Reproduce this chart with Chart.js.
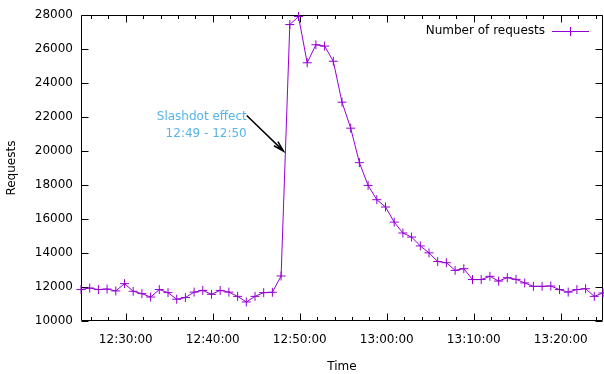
<!DOCTYPE html>
<html>
<head>
<meta charset="utf-8">
<script src="https://cdn.jsdelivr.net/npm/chart.js@4.4.0/dist/chart.umd.min.js"></script>
<style>
    html, body { margin: 0; padding: 0; background: #fff; }
</style>
</head>
<body>
<canvas id="requestsChart" width="604" height="374"></canvas>
<script>
// sample times (one per minute)
var times = [
    '12:24:51', '12:25:51', '12:26:51', '12:27:51', '12:28:51', '12:29:51', '12:30:51', '12:31:51',
    '12:32:51', '12:33:51', '12:34:51', '12:35:51', '12:36:51', '12:37:51', '12:38:51', '12:39:51',
    '12:40:51', '12:41:51', '12:42:51', '12:43:51', '12:44:51', '12:45:51', '12:46:51', '12:47:51',
    '12:48:51', '12:49:51', '12:50:51', '12:51:51', '12:52:51', '12:53:51', '12:54:51', '12:55:51',
    '12:56:51', '12:57:51', '12:58:51', '12:59:51', '13:00:51', '13:01:51', '13:02:51', '13:03:51',
    '13:04:51', '13:05:51', '13:06:51', '13:07:51', '13:08:51', '13:09:51', '13:10:51', '13:11:51',
    '13:12:51', '13:13:51', '13:14:51', '13:15:51', '13:16:51', '13:17:51', '13:18:51', '13:19:51',
    '13:20:51', '13:21:51', '13:22:51', '13:23:51', '13:24:51'
];

// Number of requests
var requests = [
    11850, 11940, 11850, 11880, 11770, 12200, 11750, 11610,
    11410, 11850, 11670, 11280, 11380, 11700, 11800, 11570,
    11800, 11700, 11450, 11120, 11450, 11670, 11690, 12650,
    27450, 27920, 25200, 26260, 26180, 25290, 22880, 21350,
    19320, 17980, 17140, 16710, 15820, 15180, 14940, 14420,
    14010, 13500, 13430, 12980, 13080, 12440, 12440, 12630,
    12350, 12550, 12450, 12240, 12040, 12040, 12060, 11850,
    11700, 11850, 11900, 11450, 11650
];

var xTickLabels = ['12:30:00', '12:40:00', '12:50:00', '13:00:00', '13:10:00', '13:20:00'];
var yTicks = [10000, 12000, 14000, 16000, 18000, 20000, 22000, 24000, 26000, 28000];

// annotation arrow (data coords)
var arrowFrom = ['12:43:54', 22100];
var arrowTo = ['12:48:08', 20000];
var noteLines = ['Slashdot effect', '12:49 - 12:50'];

var FONT = 'DejaVu Sans';
var LINE_COLOR = '#9400d3';

function toSec(t) {
    var p = t.split(':');
    return (+p[0]) * 3600 + (+p[1]) * 60 + (+p[2]);
}
function pad2(n) { return (n < 10 ? '0' : '') + n; }
function fmtTime(s) {
    return pad2(Math.floor(s / 3600)) + ':' + pad2(Math.floor(s / 60) % 60) + ':' + pad2(s % 60);
}

// cadre + graduations vers l'intérieur (style gnuplot)
var frameTicks = {
    id: 'frameTicks',
    beforeDatasetsDraw: function(chart) {
        var ctx = chart.ctx, a = chart.chartArea;
        var xs = chart.scales.x, ys = chart.scales.y;
        var L = Math.round(a.left) + 0.5, R = Math.round(a.right) - 0.5;
        var T = Math.round(a.top) + 0.5, B = Math.round(a.bottom) - 0.5;
        ctx.save();
        ctx.strokeStyle = '#000';
        ctx.lineWidth = 1;
        ctx.beginPath();
        ctx.rect(L, T, R - L, B - T);

        yTicks.forEach(function(v) {
            var y = Math.round(ys.getPixelForValue(v)) + 0.5;
            ctx.moveTo(L, y); ctx.lineTo(L + 7, y);
            ctx.moveTo(R, y); ctx.lineTo(R - 7, y);
        });
        var major = xTickLabels.map(toSec);
        for (var s = Math.ceil(xs.min / 120) * 120; s <= xs.max; s += 120) {
            var x = Math.round(xs.getPixelForValue(s)) + 0.5;
            var len = major.indexOf(s) >= 0 ? 7 : 3.5;
            ctx.moveTo(x, B); ctx.lineTo(x, B - len);
            ctx.moveTo(x, T); ctx.lineTo(x, T + len);
        }
        ctx.stroke();
        ctx.restore();
    },
    afterDatasetsDraw: function(chart) {
        var ctx = chart.ctx;
        var xs = chart.scales.x, ys = chart.scales.y;

        // annotation
        var x1 = xs.getPixelForValue(toSec(arrowFrom[0])), y1 = ys.getPixelForValue(arrowFrom[1]);
        var x2 = xs.getPixelForValue(toSec(arrowTo[0])), y2 = ys.getPixelForValue(arrowTo[1]);
        ctx.save();
        ctx.font = '12px "' + FONT + '"';
        ctx.fillStyle = '#56b4e9';
        ctx.textAlign = 'right';
        ctx.textBaseline = 'middle';
        ctx.fillText(noteLines[0], x1, y1 + 1);
        ctx.fillText(noteLines[1], x1, y1 + 18);

        ctx.strokeStyle = '#000';
        ctx.lineWidth = 1.5;
        var ang = Math.atan2(y2 - y1, x2 - x1);
        ctx.beginPath();
        ctx.moveTo(x1, y1); ctx.lineTo(x2, y2);
        ctx.moveTo(x2 - 11 * Math.cos(ang - 0.26), y2 - 11 * Math.sin(ang - 0.26));
        ctx.lineTo(x2, y2);
        ctx.lineTo(x2 - 11 * Math.cos(ang + 0.26), y2 - 11 * Math.sin(ang + 0.26));
        ctx.stroke();

        // légende
        ctx.fillStyle = '#000';
        ctx.textAlign = 'right';
        ctx.fillText('Number of requests', 545, 31);
        ctx.strokeStyle = LINE_COLOR;
        ctx.lineWidth = 1;
        ctx.beginPath();
        ctx.moveTo(552, 31.5); ctx.lineTo(589, 31.5);
        ctx.moveTo(570.5, 27); ctx.lineTo(570.5, 36);
        ctx.moveTo(566, 31.5); ctx.lineTo(575, 31.5);
        ctx.stroke();
        ctx.restore();
    }
};

var ctx = document.getElementById('requestsChart').getContext('2d');
var requestsChart = new Chart(ctx, {
    type: 'line',
    data: {
        datasets: [{
            label: 'Number of requests',
            data: times.map(function(t, i) { return { x: toSec(t), y: requests[i] }; }),
            borderColor: LINE_COLOR,
            backgroundColor: LINE_COLOR,
            borderWidth: 1,
            pointStyle: 'cross',
            pointRadius: 4.5,
            pointBorderWidth: 1,
            tension: 0,
            clip: false
        }]
    },
    options: {
        responsive: false,
        animation: false,
        layout: { autoPadding: false, padding: { top: 15, right: 1, left: 0, bottom: 0 } },
        plugins: {
            legend: { display: false },
            tooltip: { enabled: false }
        },
        scales: {
            x: {
                type: 'linear',
                min: toSec(times[0]),
                max: toSec(times[times.length - 1]),
                grid: { display: false, drawTicks: false },
                border: { display: false },
                afterBuildTicks: function(s) {
                    s.ticks = xTickLabels.map(function(t) { return { value: toSec(t) }; });
                },
                afterFit: function(s) { s.height = 53; },
                ticks: {
                    font: { family: FONT, size: 12 },
                    color: '#000',
                    padding: 12,
                    maxRotation: 0,
                    autoSkip: false,
                    callback: function(v) { return fmtTime(v); }
                },
                title: {
                    display: true,
                    text: 'Time',
                    color: '#000',
                    font: { family: FONT, size: 12 },
                    padding: { top: 0, bottom: 0 }
                }
            },
            y: {
                min: 10000,
                max: 28000,
                grid: { display: false, drawTicks: false },
                border: { display: false },
                afterBuildTicks: function(s) {
                    s.ticks = yTicks.map(function(v) { return { value: v }; });
                },
                afterFit: function(s) { s.width = 81; },
                ticks: {
                    font: { family: FONT, size: 12 },
                    color: '#000',
                    padding: 8,
                    callback: function(v) { return String(v); }
                },
                title: {
                    display: true,
                    text: 'Requests',
                    color: '#000',
                    font: { family: FONT, size: 12 },
                    padding: { top: 5, bottom: 0 }
                }
            }
        }
    },
    plugins: [frameTicks]
});
</script>
</body>
</html>
